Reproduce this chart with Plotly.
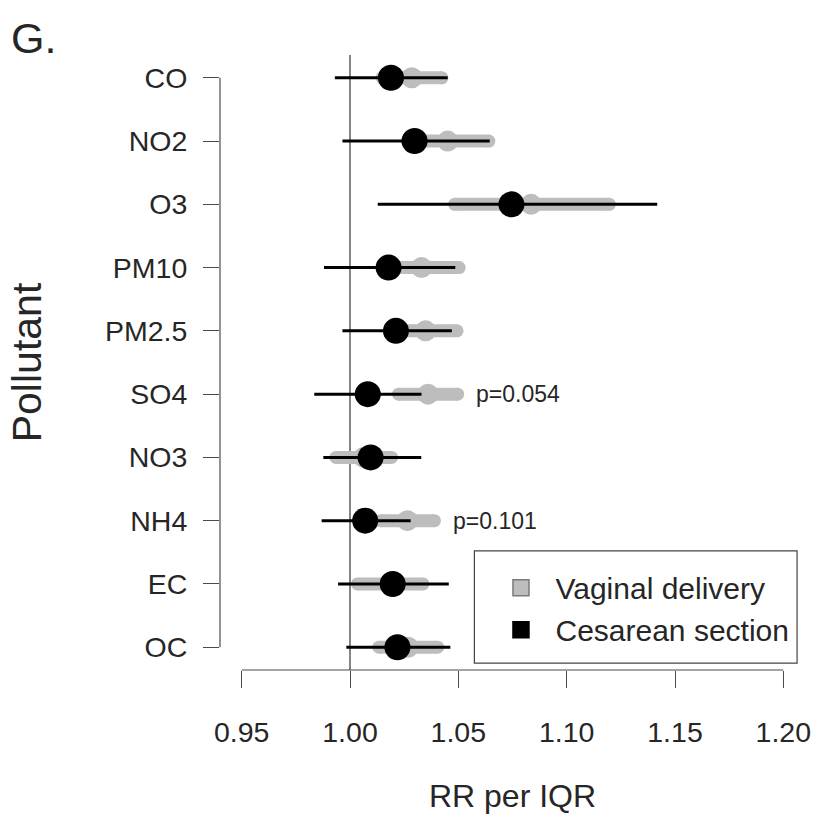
import plotly.graph_objects as go

# ---- data ----
pollutants = ["CO", "NO2", "O3", "PM10", "PM2.5", "SO4", "NO3", "NH4", "EC", "OC"]

vag_rr = [1.0285, 1.0451, 1.0836, 1.0330, 1.0349, 1.0360, 1.0063, 1.0265, 1.0185, 1.0268]
vag_lo = [1.0148, 1.0264, 1.0483, 1.0159, 1.0206, 1.0224, 0.9935, 1.0142, 1.0034, 1.0133]
vag_hi = [1.0424, 1.0641, 1.1197, 1.0504, 1.0494, 1.0497, 1.0192, 1.0390, 1.0337, 1.0405]

ces_rr = [1.0189, 1.0298, 1.0745, 1.0178, 1.0212, 1.0082, 1.0095, 1.0070, 1.0197, 1.0219]
ces_lo = [0.9930, 0.9965, 1.0128, 0.9880, 0.9965, 0.9835, 0.9877, 0.9869, 0.9945, 0.9983]
ces_hi = [1.0451, 1.0645, 1.1418, 1.0486, 1.0470, 1.0330, 1.0329, 1.0280, 1.0456, 1.0463]

p_labels = ["", "", "", "", "", "p=0.054", "", "p=0.101", "", ""]

x_ticks = [0.95, 1.00, 1.05, 1.10, 1.15, 1.20]
x_ticktext = ["0.95", "1.00", "1.05", "1.10", "1.15", "1.20"]
ref_value = 1.00

series_names = ["Vaginal delivery", "Cesarean section"]

# ---- styling ----
FONT = "Liberation Sans, Arial, Helvetica, sans-serif"
GRAY = "#bdbdbd"
BLACK = "#000000"
TXT = "#262626"
AXC = "#4a4a4a"

W, H = 821, 818
ML, MR, MT, MB = 220, 10, 55, 144
PW, PH = W - ML - MR, H - MT - MB


def px_x(p):
    return (p - ML) / PW


def px_y(p):
    return (H - MB - p) / PH


def segs(lo, hi, cats):
    xs, ys = [], []
    for a, b, c in zip(lo, hi, cats):
        xs += [a, b, None]
        ys += [c, c, None]
    return xs, ys


fig = go.Figure()

# Vaginal delivery: thick gray CI band with rounded ends + gray point
gx, gy = segs(vag_lo, vag_hi, pollutants)
fig.add_trace(go.Scatter(x=gx, y=gy, mode="lines", line=dict(color=GRAY, width=13),
                         showlegend=False, hoverinfo="skip"))
fig.add_trace(go.Scatter(x=vag_lo + vag_hi, y=pollutants + pollutants, mode="markers",
                         marker=dict(color=GRAY, size=13, line=dict(width=0)),
                         showlegend=False, hoverinfo="skip", cliponaxis=False))
fig.add_trace(go.Scatter(x=vag_rr, y=pollutants, mode="markers",
                         marker=dict(color=GRAY, size=21, line=dict(width=0)),
                         showlegend=False, name=series_names[0], cliponaxis=False))

# Cesarean section: thin black CI line + black point
bx, by = segs(ces_lo, ces_hi, pollutants)
fig.add_trace(go.Scatter(x=bx, y=by, mode="lines", line=dict(color=BLACK, width=3),
                         showlegend=False, hoverinfo="skip"))
fig.add_trace(go.Scatter(x=ces_rr, y=pollutants, mode="markers",
                         marker=dict(color=BLACK, size=26, line=dict(width=0)),
                         showlegend=False, name=series_names[1], cliponaxis=False))

# legend entries (filled squares)
fig.add_trace(go.Scatter(x=[None], y=[None], mode="markers", name=series_names[0],
                         marker=dict(symbol="square", color=GRAY, size=16,
                                     line=dict(color="#7a7a7a", width=1.5))))
fig.add_trace(go.Scatter(x=[None], y=[None], mode="markers", name=series_names[1],
                         marker=dict(symbol="square", color=BLACK, size=16,
                                     line=dict(color=BLACK, width=1.5))))

# p-value annotations next to the gray bands
for p, c, hi in zip(p_labels, pollutants, vag_hi):
    if p:
        fig.add_annotation(x=hi, y=c, text=p, showarrow=False, xanchor="left",
                           xshift=16, font=dict(size=23, color=TXT, family=FONT))

n = len(pollutants)
# R-style axis lines spanning only the tick range
fig.add_shape(type="line", xref="x", yref="paper", x0=x_ticks[0], x1=x_ticks[-1], y0=0, y1=0,
              line=dict(color=AXC, width=1.2))
fig.add_shape(type="line", xref="paper", yref="y", x0=0, x1=0, y0=0, y1=n - 1,
              line=dict(color=AXC, width=1.2))
# reference line at RR = 1
fig.add_shape(type="line", xref="x", yref="paper", x0=ref_value, x1=ref_value, y0=0, y1=1,
              line=dict(color="#333333", width=1.2), layer="below")
# legend frame
fig.add_shape(type="rect", xref="paper", yref="paper",
              x0=px_x(477), x1=px_x(803), y0=px_y(667), y1=px_y(554),
              line=dict(color="#444444", width=1.2), fillcolor="white", layer="below")

fig.update_layout(
    width=W, height=H,
    margin=dict(l=ML, r=MR, t=MT, b=MB),
    plot_bgcolor="white", paper_bgcolor="white",
    font=dict(family=FONT, color=TXT),
    title=dict(text="G.", x=11 / W, xref="container", xanchor="left",
               y=1 - 38 / H, yref="container", yanchor="middle",
               font=dict(size=43, color=TXT, family=FONT)),
    showlegend=True,
    legend=dict(x=px_x(469), y=px_y(565), xanchor="left", yanchor="top",
                borderwidth=0, bgcolor="rgba(0,0,0,0)",
                font=dict(size=30, color=TXT, family=FONT),
                indentation=20, itemwidth=59),
)

fig.update_xaxes(range=[0.94, 1.21], tickvals=x_ticks, ticktext=x_ticktext,
                 showgrid=False, zeroline=False, showline=False,
                 ticks="outside", ticklen=17, tickwidth=1.2, tickcolor=AXC,
                 ticklabelstandoff=20,
                 tickfont=dict(size=28.5, color=TXT, family=FONT),
                 title=dict(text="RR per IQR", font=dict(size=32, color=TXT, family=FONT),
                            standoff=37))
fig.update_yaxes(type="category", categoryorder="array", categoryarray=pollutants,
                 range=[n - 1 + 0.36, -0.36],
                 showgrid=False, zeroline=False, showline=False,
                 ticks="outside", ticklen=16, tickwidth=1.2, tickcolor=AXC,
                 ticklabelstandoff=10,
                 tickfont=dict(size=28.5, color=TXT, family=FONT),
                 title=dict(text="Pollutant", font=dict(size=41, color=TXT, family=FONT),
                            standoff=50))

fig.write_html("out.html")
